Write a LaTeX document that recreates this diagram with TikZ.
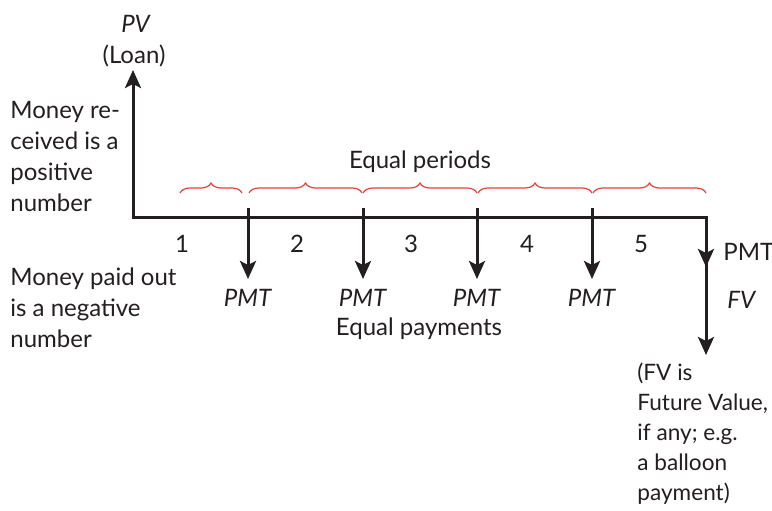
\documentclass[tikz,border=0pt]{standalone}
\usepackage{fontspec}
\setmainfont{Lato}
\usetikzlibrary{arrows.meta, positioning, calc, decorations.pathreplacing}
\definecolor{inkline}{HTML}{231F20}
\definecolor{inkbrace}{HTML}{E8413C}
\tikzset{
  flow/.style={-{Stealth[length=9pt, width=8pt, inset=2pt]}, inkline, line width=1.5pt},
  period/.style={inkbrace, line width=0.6pt,
    decorate, decoration={brace, amplitude=5pt}},
  lbl/.style={anchor=base, inner sep=0pt, text=inkline},
  note/.style={anchor=base west, inner sep=0pt, align=left, text=inkline},
}
\newcommand{\paydown}[2]{%
  \coordinate (t#1) at (#2,208);
  \coordinate (h#1) at (#2,279);
  \draw[flow] (t#1) -- (h#1);
  \node[lbl] (pmt#1) at (#2,306) {\textit{PMT}};}

\begin{document}
\begin{tikzpicture}[x=0.5pt, y=-0.5pt, font=\fontsize{12}{15.5}\selectfont]
  \useasboundingbox (0,0) rectangle (772,510);
  % time line
  \coordinate (top) at (133,70);
  \coordinate (o) at (133,217);
  \coordinate (e) at (706,217);
  \coordinate (mid) at (706,267);
  \coordinate (bot) at (706,355);
  \draw[flow, {Stealth[length=9pt, width=8pt, inset=2pt]}-{Stealth[length=9pt, width=8pt, inset=2pt]},
        line join=miter] (top) -- (o) -- (e) -- (bot);
  \draw[flow] (e) -- (mid);
  % payments
  \paydown{1}{248}
  \paydown{2}{363}
  \paydown{3}{477}
  \paydown{4}{592}
  % periods
  \foreach \a/\b in {180/242, 249/362, 363/477, 478/592, 593/706}
    \draw[period] (\a,193) -- (\b,193);
  \foreach \n/\x in {1/182, 2/297, 3/411, 4/527, 5/641}
    \node[lbl] (n\n) at (\x,252) {\n};
  \node[lbl] (periods) at (420,168) {Equal periods};
  \node[lbl] (payments) at (419,335) {Equal payments};
  % labels (base = last line)
  \node[lbl] (pv) at (136,32) {\textit{PV}};
  \node[lbl] (loan) at (134,63) {(Loan)};
  \node[note] (recv) at (10,211) {Money re-\\ceived is a\\positive\\number};
  \node[note] (paid) at (10,347) {Money paid out\\is a negative\\number};
  \node[note] (pmtend) at (723,260) {PMT};
  \node[note] (fv) at (727,308) {\textit{FV}};
  \node[note, font=\fontsize{11.3}{15}\selectfont] (fvnote) at (637,500)
    {(FV is\\Future Value,\\if any; e.g.\\a balloon\\payment)};
\end{tikzpicture}
\end{document}
